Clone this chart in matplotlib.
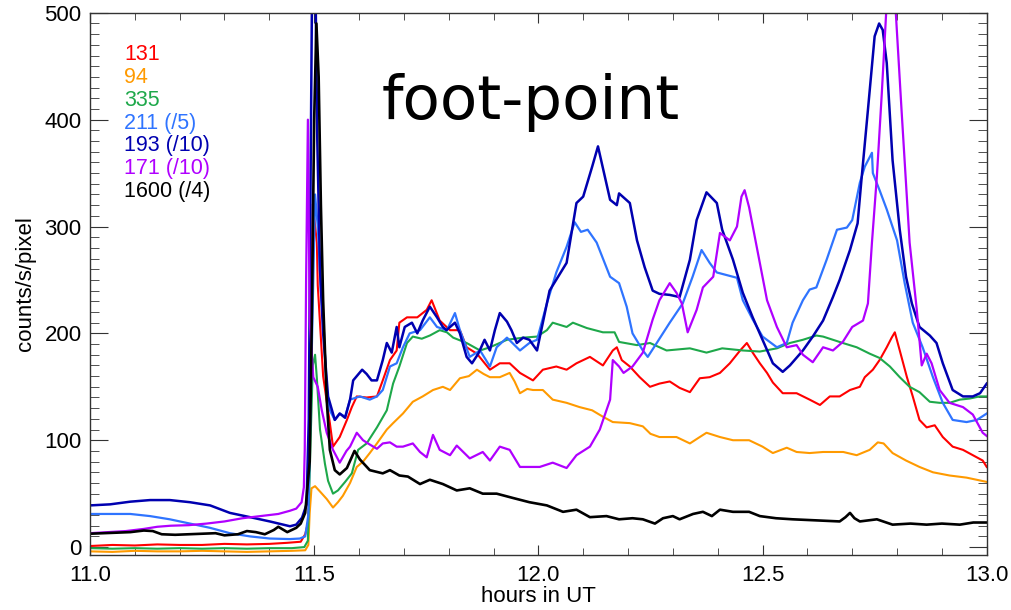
import numpy as np
import matplotlib
matplotlib.use("Agg")
import matplotlib.pyplot as plt
from matplotlib.ticker import MultipleLocator

plt.rcParams['font.family'] = ['Liberation Sans', 'DejaVu Sans']

# (time in hours UT, counts/s/pixel)
aia_131 = [(11.00, 1), (11.05, 2), (11.10, 1.5), (11.15, 2.5), (11.20, 2), (11.25, 2), (11.30, 3), (11.35, 2.5),
           (11.40, 3), (11.44, 4), (11.47, 5), (11.48, 12), (11.487, 24), (11.49, 107), (11.497, 321),
           (11.506, 285), (11.508, 245), (11.52, 160), (11.535, 116), (11.542, 94), (11.557, 103), (11.573, 119),
           (11.584, 131), (11.595, 141), (11.617, 140), (11.64, 141), (11.653, 156), (11.669, 175),
           (11.684, 184), (11.69, 210), (11.707, 215), (11.73, 215), (11.751, 222), (11.762, 231), (11.78, 212),
           (11.803, 203), (11.825, 203), (11.84, 187), (11.863, 181), (11.892, 166), (11.914, 172), (11.936, 172),
           (11.959, 163), (11.988, 156), (12.01, 166), (12.04, 169), (12.063, 166), (12.085, 172), (12.115, 178),
           (12.144, 170), (12.166, 184), (12.175, 187), (12.186, 175), (12.204, 169), (12.226, 159), (12.249, 150),
           (12.27, 153), (12.293, 155), (12.315, 149), (12.338, 145), (12.36, 158), (12.382, 159), (12.405, 163),
           (12.427, 172), (12.45, 184), (12.465, 191), (12.478, 182), (12.494, 172), (12.51, 163), (12.523, 154),
           (12.545, 144), (12.576, 144), (12.605, 138), (12.628, 133), (12.65, 141), (12.672, 141), (12.695, 147),
           (12.717, 150), (12.728, 159), (12.746, 166), (12.761, 175), (12.777, 187), (12.788, 196), (12.795, 201),
           (12.806, 184), (12.822, 159), (12.835, 141), (12.85, 119), (12.866, 112), (12.884, 114), (12.902, 103),
           (12.924, 94), (12.947, 91), (12.969, 86), (12.991, 81), (13.0, 75)]

aia_94 = [(11.00, -4), (11.05, -4.5), (11.10, -3.5), (11.15, -4), (11.20, -4), (11.25, -3.5), (11.30, -4),
          (11.35, -4.5), (11.40, -4), (11.45, -3.5), (11.48, -3), (11.487, 2), (11.49, 32), (11.494, 55),
          (11.502, 57), (11.513, 52), (11.528, 45), (11.542, 37), (11.553, 42), (11.564, 48), (11.58, 60),
          (11.595, 75), (11.609, 80), (11.624, 88), (11.64, 97), (11.662, 110), (11.676, 116), (11.698, 125),
          (11.72, 136), (11.742, 141), (11.765, 147), (11.787, 150), (11.803, 147), (11.825, 158), (11.845, 160),
          (11.863, 166), (11.878, 162), (11.892, 159), (11.914, 159), (11.936, 163), (11.947, 155), (11.959, 144),
          (11.975, 148), (11.988, 147), (12.01, 147), (12.032, 138), (12.063, 135), (12.092, 131), (12.12, 128),
          (12.144, 122), (12.166, 117), (12.204, 116), (12.233, 113), (12.25, 106), (12.27, 103), (12.308, 103),
          (12.338, 97), (12.36, 103), (12.375, 107), (12.405, 103), (12.434, 100), (12.47, 100), (12.5, 94),
          (12.523, 88), (12.554, 93), (12.576, 89), (12.605, 88), (12.635, 89), (12.68, 89), (12.71, 86),
          (12.739, 91), (12.757, 98), (12.77, 97), (12.79, 88), (12.82, 81), (12.85, 75), (12.88, 70),
          (12.917, 67), (12.955, 65), (13.0, 61)]

aia_335 = [(11.00, -1), (11.05, -1.5), (11.10, -1), (11.15, -1.5), (11.20, -1), (11.25, -1.5), (11.30, -1),
           (11.35, -1.5), (11.40, -1), (11.45, -1), (11.478, 0), (11.486, 6), (11.492, 100), (11.497, 170),
           (11.502, 180), (11.506, 158), (11.513, 110), (11.524, 78), (11.531, 62), (11.542, 50), (11.553, 53),
           (11.569, 61), (11.584, 69), (11.598, 91), (11.617, 97), (11.64, 112), (11.662, 128), (11.676, 153),
           (11.69, 169), (11.707, 191), (11.72, 197), (11.74, 195), (11.758, 198), (11.78, 203), (11.796, 201),
           (11.81, 196), (11.84, 191), (11.87, 184), (11.892, 187), (11.93, 194), (11.966, 196), (11.997, 197),
           (12.019, 203), (12.032, 210), (12.063, 206), (12.077, 210), (12.108, 205), (12.144, 201), (12.17, 201),
           (12.18, 192), (12.22, 189), (12.249, 191), (12.286, 184), (12.338, 186), (12.375, 182), (12.41, 186),
           (12.456, 184), (12.494, 183), (12.532, 186), (12.561, 191), (12.59, 194), (12.62, 198), (12.635, 197),
           (12.657, 194), (12.679, 191), (12.71, 187), (12.739, 181), (12.761, 177), (12.784, 169), (12.806, 159),
           (12.828, 150), (12.85, 145), (12.873, 136), (12.895, 135), (12.917, 135), (12.94, 138), (12.962, 139),
           (12.984, 141), (13.0, 141)]

aia_211 = [(11.00, 31), (11.045, 31), (11.09, 31), (11.134, 29), (11.178, 26), (11.223, 22), (11.268, 18),
           (11.312, 13), (11.357, 10), (11.401, 8), (11.446, 7.5), (11.468, 8), (11.48, 10), (11.487, 30),
           (11.493, 150), (11.502, 330), (11.508, 300), (11.515, 240), (11.522, 200), (11.528, 144), (11.535, 128),
           (11.546, 119), (11.557, 125), (11.569, 122), (11.58, 138), (11.602, 141), (11.624, 138), (11.64, 141),
           (11.653, 147), (11.669, 169), (11.684, 172), (11.698, 187), (11.713, 200), (11.736, 203), (11.758, 215),
           (11.774, 206), (11.796, 203), (11.814, 219), (11.825, 203), (11.847, 178), (11.87, 184), (11.892, 169),
           (11.907, 187), (11.93, 196), (11.959, 184), (11.98, 191), (11.997, 194), (12.019, 228), (12.04, 257),
           (12.063, 281), (12.081, 304), (12.095, 295), (12.11, 297), (12.13, 285), (12.16, 253), (12.18, 247),
           (12.197, 225), (12.21, 200), (12.233, 184), (12.244, 178), (12.264, 191), (12.293, 210), (12.322, 228),
           (12.344, 253), (12.364, 278), (12.382, 266), (12.398, 257), (12.416, 255), (12.443, 252), (12.456, 231),
           (12.478, 213), (12.5, 197), (12.532, 187), (12.554, 191), (12.567, 210), (12.59, 231), (12.605, 241),
           (12.62, 243), (12.643, 269), (12.666, 297), (12.688, 299), (12.70, 306), (12.717, 341), (12.728, 356),
           (12.744, 369), (12.746, 350), (12.761, 334), (12.777, 316), (12.8, 287), (12.817, 247), (12.835, 210),
           (12.857, 187), (12.88, 159), (12.902, 135), (12.924, 119), (12.955, 117), (12.978, 119), (13.0, 125)]

aia_193 = [(11.00, 39), (11.045, 40), (11.09, 42.5), (11.134, 44), (11.178, 44), (11.223, 42), (11.268, 39),
           (11.312, 32), (11.357, 28), (11.401, 24), (11.446, 19.5), (11.46, 21), (11.473, 27.5), (11.483, 40),
           (11.488, 120), (11.493, 400), (11.497, 620), (11.502, 560), (11.507, 380), (11.513, 260), (11.52, 200),
           (11.531, 141), (11.546, 119), (11.557, 125), (11.569, 121), (11.58, 138), (11.587, 156),
           (11.607, 166), (11.617, 162), (11.628, 156), (11.64, 156), (11.653, 175), (11.662, 191), (11.673, 182),
           (11.684, 206), (11.69, 187), (11.702, 206), (11.718, 210), (11.73, 200), (11.742, 212), (11.758, 225),
           (11.774, 215), (11.787, 206), (11.795, 203), (11.814, 210), (11.825, 200), (11.84, 178), (11.852, 172),
           (11.866, 181), (11.88, 194), (11.892, 184), (11.903, 203), (11.914, 219), (11.93, 211), (11.94, 203),
           (11.952, 191), (11.966, 196), (11.98, 194), (11.997, 184), (12.025, 240), (12.063, 266), (12.085, 322),
           (12.1, 328), (12.12, 356), (12.133, 375), (12.16, 325), (12.175, 320), (12.18, 331), (12.204, 322),
           (12.22, 287), (12.237, 262), (12.255, 240), (12.27, 237), (12.293, 236), (12.315, 234), (12.338, 269),
           (12.353, 306), (12.375, 332), (12.398, 322), (12.41, 297), (12.434, 269), (12.456, 238), (12.478, 215),
           (12.5, 194), (12.523, 172), (12.545, 164), (12.561, 170), (12.59, 184), (12.612, 197), (12.635, 212),
           (12.657, 234), (12.672, 250), (12.695, 278), (12.712, 303), (12.72, 341), (12.735, 409), (12.75, 478),
           (12.76, 490), (12.768, 484), (12.777, 453), (12.79, 362), (12.806, 297), (12.82, 253), (12.833, 228),
           (12.85, 206), (12.873, 198), (12.888, 191), (12.902, 172), (12.924, 147), (12.947, 141), (12.969, 141),
           (12.985, 144), (13.0, 153)]

aia_171 = [(11.00, 13), (11.04, 14), (11.08, 15), (11.12, 17), (11.15, 19), (11.18, 20), (11.22, 20.5), (11.26, 22),
           (11.30, 24), (11.34, 27), (11.38, 29), (11.42, 31), (11.446, 34), (11.46, 36), (11.472, 42), (11.477, 56),
           (11.479, 91), (11.482, 250), (11.486, 400), (11.49, 211), (11.498, 159), (11.508, 150), (11.517, 128),
           (11.528, 107), (11.542, 91), (11.557, 79), (11.572, 90), (11.58, 94), (11.595, 107), (11.609, 100),
           (11.624, 96), (11.64, 92), (11.653, 97), (11.669, 98), (11.684, 94), (11.698, 94), (11.72, 97),
           (11.736, 89), (11.751, 84), (11.765, 105), (11.78, 91), (11.803, 86), (11.818, 95), (11.847, 83),
           (11.876, 89), (11.892, 81), (11.914, 94), (11.936, 91), (11.959, 75), (12.003, 75), (12.032, 79),
           (12.063, 74), (12.085, 86), (12.115, 94), (12.137, 110), (12.16, 138), (12.166, 175), (12.18, 169),
           (12.19, 163), (12.21, 169), (12.233, 182), (12.255, 213), (12.27, 231), (12.293, 247), (12.308, 238),
           (12.32, 228), (12.333, 201), (12.353, 222), (12.367, 243), (12.39, 253), (12.405, 294), (12.427, 287),
           (12.443, 300), (12.453, 328), (12.46, 334), (12.47, 318), (12.487, 281), (12.51, 231), (12.532, 206),
           (12.554, 187), (12.576, 189), (12.59, 180), (12.612, 173), (12.635, 187), (12.657, 184), (12.679, 192),
           (12.70, 206), (12.724, 212), (12.735, 228), (12.744, 285), (12.755, 347), (12.766, 425), (12.786, 580),
           (12.81, 409), (12.828, 285), (12.844, 222), (12.855, 170), (12.866, 181), (12.877, 172), (12.895, 147),
           (12.917, 135), (12.947, 131), (12.969, 124), (12.991, 107), (13.0, 104)]

aia_1600 = [(11.00, 12.5), (11.03, 13), (11.06, 13.5), (11.09, 14), (11.12, 15.5), (11.14, 15), (11.16, 12),
            (11.19, 11.5), (11.22, 12), (11.25, 12.5), (11.28, 13), (11.30, 11), (11.33, 12), (11.35, 15),
            (11.37, 14), (11.39, 12), (11.41, 16), (11.42, 19), (11.44, 14), (11.46, 18), (11.47, 22), (11.48, 32),
            (11.49, 80), (11.495, 220), (11.50, 400), (11.505, 490), (11.51, 440), (11.515, 320), (11.52, 231),
            (11.528, 138), (11.535, 91), (11.546, 72), (11.557, 68), (11.573, 74), (11.59, 90), (11.602, 82),
            (11.624, 72), (11.653, 69), (11.669, 72), (11.69, 67), (11.709, 66), (11.736, 59), (11.758, 63),
            (11.787, 59), (11.818, 53), (11.847, 55), (11.876, 50), (11.907, 50), (11.943, 46), (11.98, 42),
            (12.019, 39), (12.055, 33), (12.085, 35), (12.115, 28), (12.152, 29), (12.18, 26), (12.21, 27),
            (12.233, 26), (12.26, 22), (12.278, 27), (12.30, 29), (12.315, 26), (12.345, 31), (12.367, 33),
            (12.387, 29), (12.405, 35), (12.434, 33), (12.47, 33), (12.494, 29), (12.53, 27), (12.567, 26),
            (12.62, 25), (12.672, 24), (12.685, 28), (12.695, 32), (12.705, 27), (12.717, 24), (12.755, 26),
            (12.79, 21), (12.83, 22), (12.866, 21), (12.90, 22), (12.94, 21), (12.97, 23), (13.00, 23)]

series = [aia_131, aia_94, aia_335, aia_211, aia_193, aia_171, aia_1600]
labels = ['131', '94', '335', '211 (/5)', '193 (/10)', '171 (/10)', '1600 (/4)']
colors = ['#ff0000', '#ff9a00', '#1ea84a', '#2f74ff', '#0000b0', '#b000ff', '#000000']
widths = [1.5, 1.5, 1.5, 1.6, 1.8, 1.6, 1.9]

fig = plt.figure(figsize=(10.11, 6.10), dpi=100)
ax = fig.add_axes([0.089, 0.090, 0.887, 0.889])

for data, c, lw in zip(series, colors, widths):
    t, v = np.array(data).T
    ax.plot(t, v, color=c, lw=lw)

ax.set_xlim(11.0, 13.0)
ax.set_ylim(-7.5, 500)
ax.xaxis.set_major_locator(MultipleLocator(0.5))
ax.xaxis.set_minor_locator(MultipleLocator(0.1))
ax.yaxis.set_major_locator(MultipleLocator(100))
ax.yaxis.set_minor_locator(MultipleLocator(10))
ax.xaxis.set_major_formatter(lambda x, pos: f'{x:.1f}')
ax.tick_params(which='both', direction='in', top=True, right=True, labelsize=16, color='#333333')
ax.tick_params(axis='x', which='major', length=7, pad=7)
ax.tick_params(axis='x', which='minor', length=5)
ax.tick_params(axis='y', which='major', length=13, pad=6)
ax.tick_params(axis='y', which='minor', length=6.5)
for s in ax.spines.values():
    s.set_linewidth(1.0)
    s.set_color('#333333')

ax.set_xlabel('hours in UT', fontsize=16, labelpad=0)
ax.set_ylabel('counts/s/pixel', fontsize=16, labelpad=6)

# colour-coded channel list
for i, (lab, c) in enumerate(zip(labels, colors)):
    ax.text(0.038, 0.924 - i * 0.0424, lab, color=c, fontsize=15.5,
            transform=ax.transAxes, va='center', ha='left')

ax.text(0.3255, 0.8044, 'foot-point', fontsize=44, transform=ax.transAxes,
        va='baseline', ha='left', family=['DejaVu Sans'])

fig.savefig('out.png', dpi=100)
